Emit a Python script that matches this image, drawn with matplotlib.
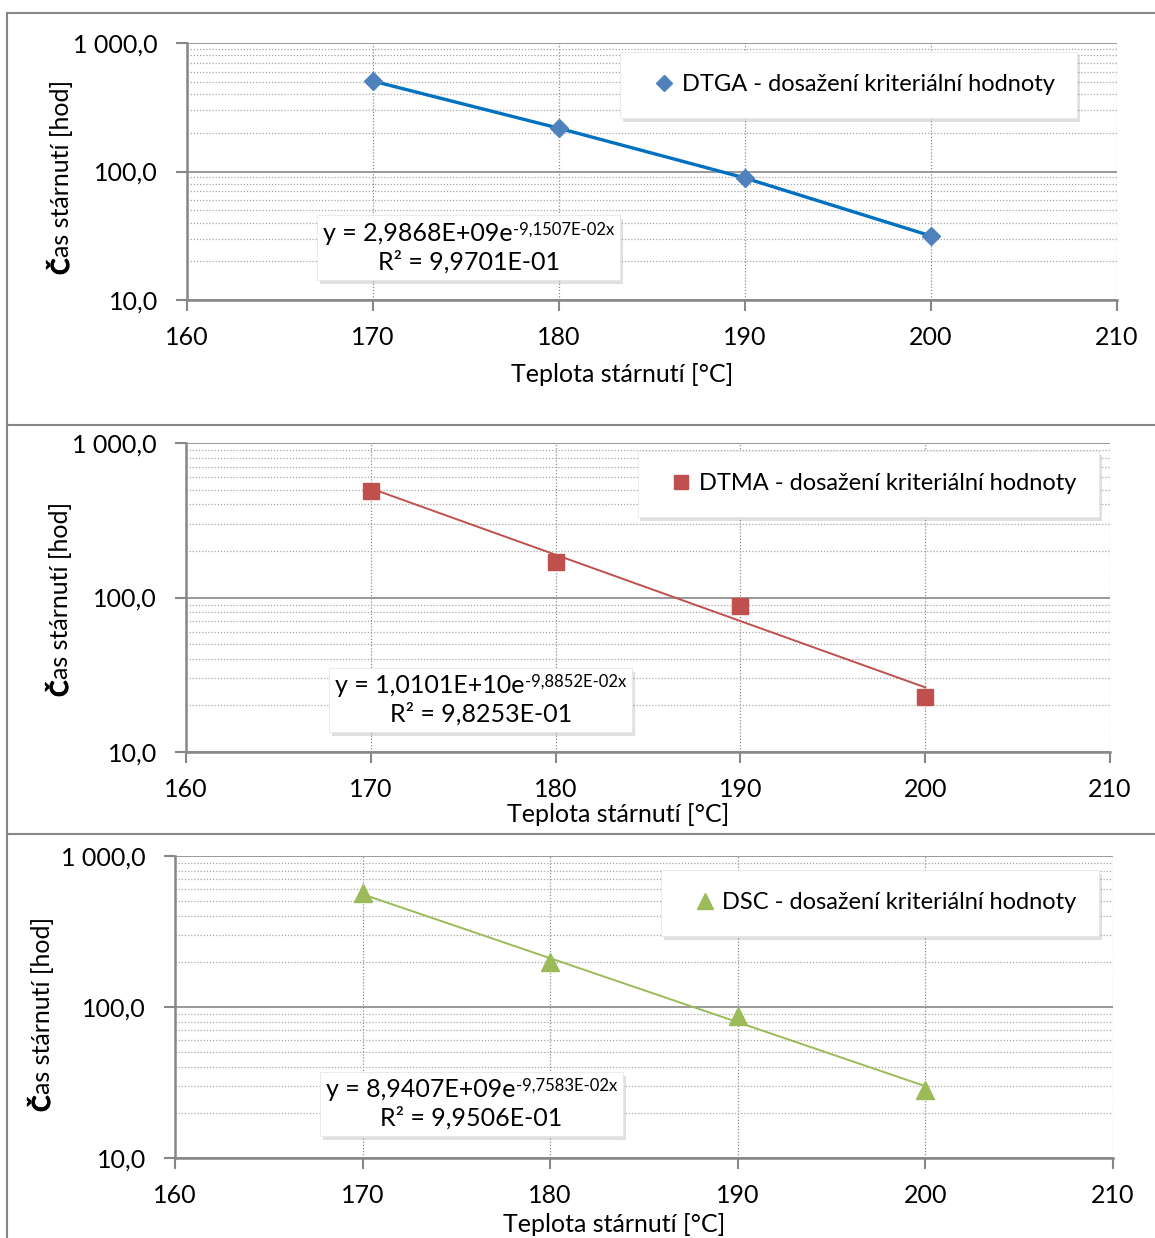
import numpy as np
import matplotlib
matplotlib.use('Agg')
from matplotlib import pyplot as plt
from matplotlib import patheffects as pe
from matplotlib.lines import Line2D
from matplotlib.offsetbox import TextArea, HPacker, VPacker, AnchoredOffsetbox

plt.rcParams['font.family'] = ['Lato', 'DejaVu Sans']

# aging temperature [°C] and time to reach the criterion [h]
teplota = [170, 180, 190, 200]
cas_dtga = [505, 217, 89, 31.5]
cas_dtma = [489, 170, 88, 22.7]
cas_dsc = [569, 199, 87, 28.2]

# exponential trendlines y = a * exp(b * x) and R^2
fit_dtga = (2.9868e9, -9.1507e-2, 9.9701e-1)
fit_dtma = (1.0101e10, -9.8852e-2, 9.8253e-1)
fit_dsc = (8.9407e9, -9.7583e-2, 9.9506e-1)

nazvy = ['DTGA - dosažení kriteriální hodnoty',
         'DTMA - dosažení kriteriální hodnoty',
         'DSC - dosažení kriteriální hodnoty']

x_ticks = [160, 170, 180, 190, 200, 210]
y_ticks = [10, 100, 1000]
y_tick_labels = ['10,0', '100,0', '1 000,0']

W, H = 1155, 1238
fig = plt.figure(figsize=(W / 100, H / 100), dpi=100)

def fx(px):
    return px / W

def fy(py):
    return 1 - py / H

def sci(v):
    return '{:.4E}'.format(v).replace('.', ',')

GRAY = '#878787'
FS = 18

# panel geometry in pixels: (left, right, top, bottom), labels, boxes
panels = [
    dict(box=(187, 1117, 43, 300), data=cas_dtga, fit=fit_dtga, name=nazvy[0],
         color='#4f81bd', line='#0070c0', marker='D', ms=9, lw=2.4, connect=True,
         leg=(0.957, 0.965), eq=(0.303, 0.204), xl=375, yl=(69, 275)),
    dict(box=(186, 1110, 443, 752), data=cas_dtma, fit=fit_dtma, name=nazvy[1],
         color='#c0504d', line='#c0504d', marker='s', ms=11, lw=1.4, connect=False,
         leg=(0.988, 0.975), eq=(0.319, 0.168), xl=815, yl=(68, 697)),
    dict(box=(175, 1113, 856, 1158), data=cas_dsc, fit=fit_dsc, name=nazvy[2],
         color='#9bbb59', line='#9bbb59', marker='^', ms=13, lw=1.4, connect=False,
         leg=(0.985, 0.954), eq=(0.316, 0.179), xl=1225, yl=(50, 1112)),
]

shadow = [pe.SimplePatchShadow(offset=(2, -3), shadow_rgbFace='#9a9a9a', alpha=0.3),
          pe.Normal()]

# advance of the bold first letter of the y label
renderer = fig.canvas.get_renderer()
probe = fig.text(0, 0, 'Č', fontsize=FS, fontweight='bold')
c_width = probe.get_window_extent(renderer).width + 1
probe.remove()

for p in panels:
    l, r, t, b = p['box']
    ax = fig.add_axes([fx(l), fy(b), fx(r) - fx(l), fy(t) - fy(b)])
    ax.set_yscale('log')
    ax.set_xlim(160, 210)
    ax.set_ylim(10, 1000)

    if p['connect']:
        ax.plot(teplota, p['data'], color=p['line'], lw=p['lw'], zorder=3)
    else:
        a, k, _ = p['fit']
        xs = np.linspace(teplota[0], teplota[-1], 50)
        ax.plot(xs, a * np.exp(k * xs), color=p['line'], lw=p['lw'], zorder=3)
    ax.plot(teplota, p['data'], ls='none', marker=p['marker'], ms=p['ms'],
            color=p['color'], mec=p['color'], zorder=4, clip_on=False)

    ax.set_xticks(x_ticks)
    ax.set_xticklabels([str(v) for v in x_ticks])
    ax.set_yticks(y_ticks)
    ax.set_yticklabels(y_tick_labels)
    ax.tick_params(axis='both', which='major', direction='out', length=8,
                   width=1.5, color=GRAY, labelsize=FS)
    ax.tick_params(axis='y', which='major', pad=13)
    ax.tick_params(axis='x', which='major', pad=11)
    ax.tick_params(axis='y', which='minor', length=0)
    ax.yaxis.set_minor_formatter(plt.NullFormatter())

    ax.grid(True, axis='y', which='major', color=GRAY, lw=1.2, ls='-')
    ax.grid(True, axis='y', which='minor', color='#a6a6a6', lw=0.9, ls=(0, (1, 1.5)))
    ax.grid(True, axis='x', which='major', color='#8c8c8c', lw=0.9, ls=(0, (1, 1.5)))
    ax.set_axisbelow(True)
    for s in ['top', 'right']:
        ax.spines[s].set_visible(False)
    for s in ['left', 'bottom']:
        ax.spines[s].set_color(GRAY)
        ax.spines[s].set_linewidth(1.8)

    handle = Line2D([], [], ls='none', marker=p['marker'], ms=p['ms'] * 0.9,
                    color=p['color'])
    leg = ax.legend([handle], [p['name']], loc='upper right',
                    bbox_to_anchor=p['leg'], fontsize=17, frameon=True,
                    fancybox=False, framealpha=1, edgecolor='#e6e6e6',
                    borderpad=0.95, handlelength=1.8, handletextpad=-0.15,
                    borderaxespad=0)
    leg.get_frame().set_linewidth(0.6)
    leg.get_frame().set_path_effects(shadow)
    leg.set_zorder(6)

    a, k, r2 = p['fit']
    line1 = HPacker(children=[TextArea('y = ' + sci(a) + 'e', textprops=dict(size=FS)),
                              TextArea(sci(k) + 'x', textprops=dict(size=12))],
                    align='top', pad=0, sep=0)
    line2 = TextArea('R² = ' + sci(r2), textprops=dict(size=FS))
    eq = AnchoredOffsetbox(loc='center', child=VPacker(children=[line1, line2],
                                                       align='center', pad=0, sep=4),
                           bbox_to_anchor=p['eq'], bbox_transform=ax.transAxes,
                           frameon=True, pad=0.45, borderpad=0)
    eq.patch.set_facecolor('white')
    eq.patch.set_edgecolor('#e6e6e6')
    eq.patch.set_linewidth(0.6)
    eq.patch.set_boxstyle('square', pad=0)
    eq.patch.set_path_effects(shadow)
    eq.set_zorder(6)
    ax.add_artist(eq)

    fig.text(fx((l + r) / 2 - 30), fy(p['xl']), 'Teplota stárnutí [°C]',
             fontsize=FS, ha='center', va='center')
    # y label: bold first letter, rest regular, along one baseline
    bx, by = p['yl']
    fig.text(fx(bx), fy(by), 'Č', fontsize=FS, fontweight='bold', rotation=90,
             rotation_mode='anchor', ha='left', va='baseline',
             path_effects=[pe.withStroke(linewidth=0.5, foreground='black')])
    fig.text(fx(bx), fy(by - c_width), 'as stárnutí [hod]', fontsize=FS,
             rotation=90, rotation_mode='anchor', ha='left', va='baseline')

# chart area borders
for yy in [13, 425, 834]:
    fig.add_artist(Line2D([fx(7), 1], [fy(yy), fy(yy)], color=GRAY, lw=1.5))
fig.add_artist(Line2D([fx(7), fx(7)], [fy(13), 0], color=GRAY, lw=1.5))

fig.savefig('out.png', dpi=100)
